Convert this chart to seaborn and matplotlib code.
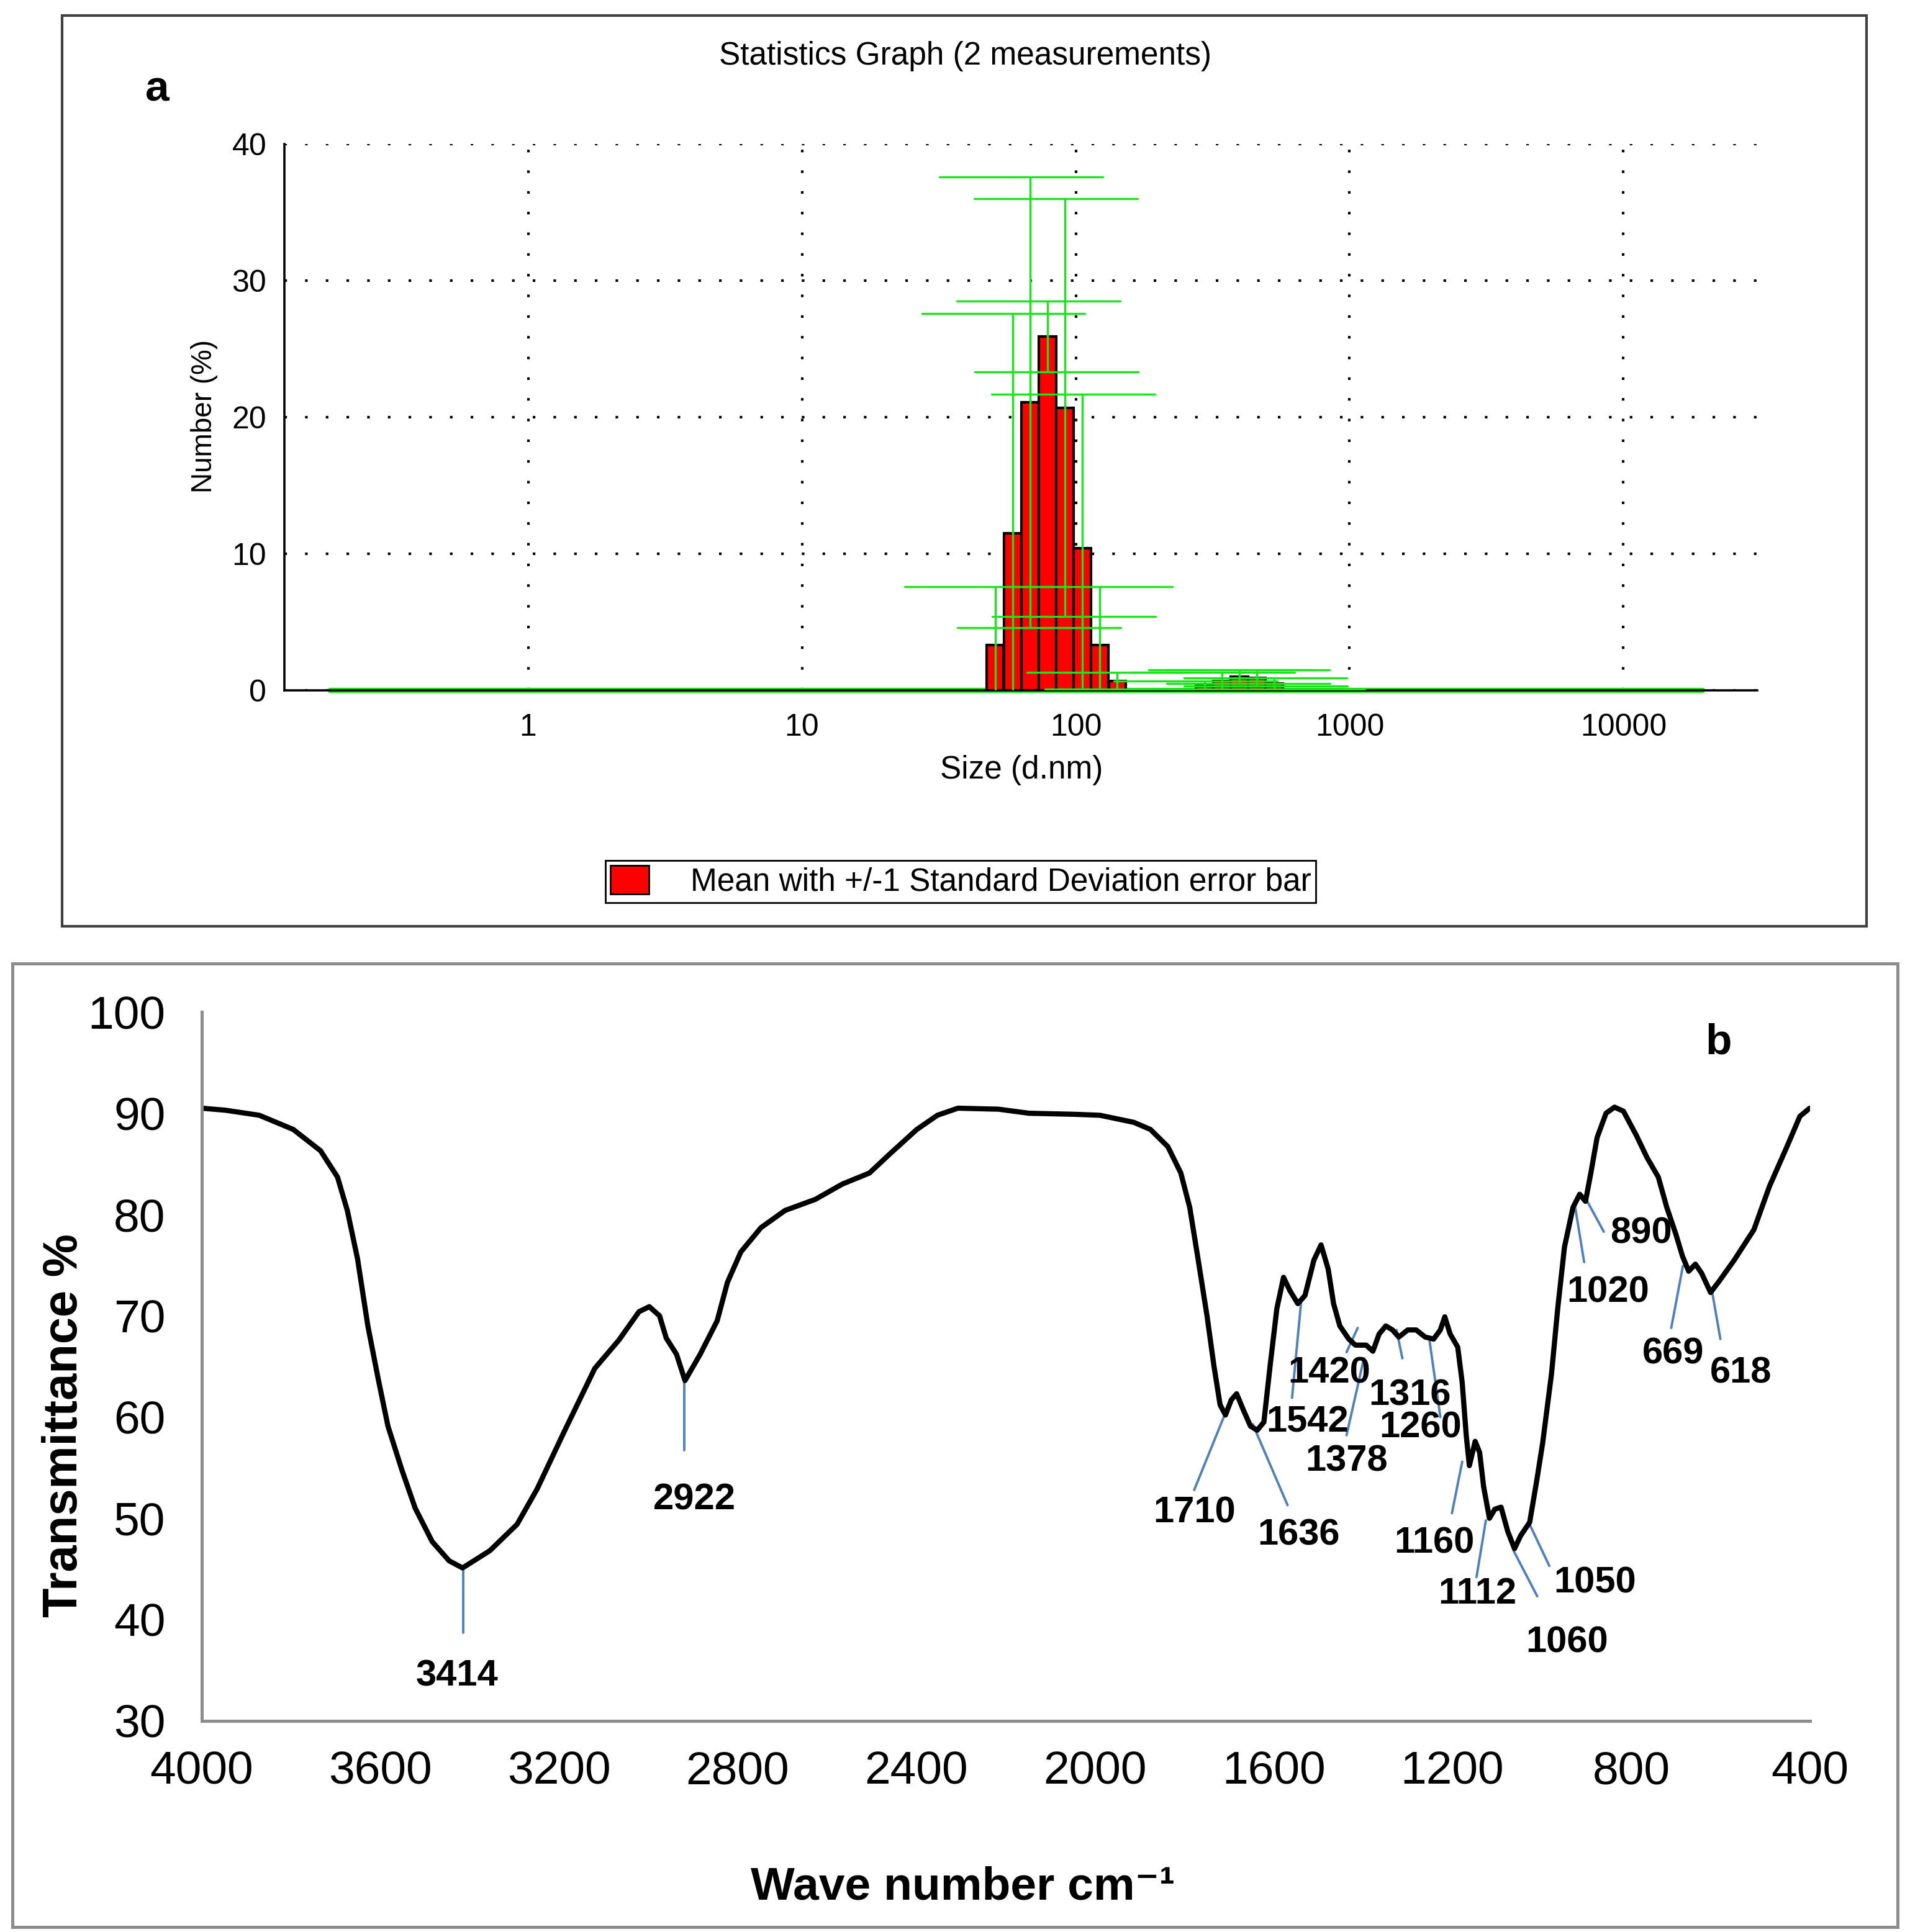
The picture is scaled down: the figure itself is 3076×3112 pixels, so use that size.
import matplotlib
matplotlib.use('Agg')
import numpy as np
import pandas as pd
import seaborn as sns
import matplotlib.pyplot as plt
from matplotlib.patches import Rectangle, Patch
from matplotlib.ticker import NullFormatter, FixedLocator
from matplotlib import font_manager

# ---------------- data: panel a (DLS size distribution) ----------------
size_bins = [50.75, 58.77, 68.06, 78.82, 91.28, 105.7, 122.4, 141.8,
             295.3, 342.0, 396.1, 458.7, 531.2]
number_mean = [3.3, 11.5, 21.1, 25.9, 20.7, 10.4, 3.3, 0.7,
               0.3, 0.7, 1.0, 0.9, 0.5]
number_sd = [4.3, 16.1, 16.5, 2.6, 15.3, 11.3, 4.3, 0.6,
             0.4, 0.6, 0.5, 0.6, 0.4]
size_sd_lo = 0.467   # size spread of error bar caps (ratio to bin size)
size_sd_hi = 1.84
zero_bins_span = [0.19, 19500]
size_ticks = [1, 10, 100, 1000, 10000]

# ---------------- data: panel b (FTIR spectrum) ----------------
wavenumber = [4000, 3947, 3871, 3795, 3734, 3696, 3674, 3651, 3628, 3605, 3583, 3552,
              3522, 3484, 3446, 3416, 3355, 3294, 3249, 3188, 3120, 3066, 3021, 2998,
              2975, 2960, 2937, 2918, 2884, 2846, 2823, 2793, 2748, 2694, 2626, 2566,
              2505, 2459, 2399, 2353, 2307, 2216, 2148, 2049, 1989, 1913,
              1876, 1837, 1808, 1788, 1769, 1749, 1734, 1720, 1708, 1695, 1683, 1669,
              1652, 1637, 1622, 1608, 1593, 1578, 1564, 1546, 1530, 1510, 1494, 1478,
              1466, 1452, 1432, 1417, 1393, 1378, 1364, 1349, 1334, 1320, 1300, 1281,
              1261, 1242, 1227, 1217, 1205, 1188, 1178, 1169, 1162, 1149, 1139, 1130,
              1117, 1105, 1091, 1076, 1061, 1047, 1027, 1012, 998, 978, 964, 949,
              930, 915, 902, 890, 876, 856, 837, 817, 788, 764, 739, 720,
              700, 685, 671, 656, 642, 622, 603, 569, 525, 490, 451, 422, 400]
transmittance = [90.5, 90.3, 89.8, 88.4, 86.3, 83.7, 80.4, 75.6, 69.0, 63.8, 59.1, 54.8,
                 51.0, 47.7, 45.8, 45.1, 46.8, 49.4, 52.9, 58.6, 64.8, 67.6, 70.4, 70.9,
                 70.0, 67.8, 66.2, 63.6, 66.2, 69.5, 73.3, 76.3, 78.7, 80.4, 81.5, 83.0,
                 84.1, 86.0, 88.4, 89.8, 90.5, 90.4, 90.0, 89.9, 89.8, 89.1,
                 88.4, 86.7, 84.1, 80.7, 75.5, 69.9, 65.1, 61.2, 60.2, 61.7, 62.3, 60.8,
                 59.1, 58.7, 59.5, 65.1, 70.7, 73.8, 72.5, 71.2, 72.0, 75.5, 77.0, 74.6,
                 71.2, 69.0, 67.7, 67.1, 67.1, 66.5, 68.2, 69.0, 68.6, 67.9, 68.6, 68.6,
                 67.9, 67.7, 68.6, 69.9, 68.2, 66.9, 63.4, 58.2, 55.2, 57.6, 56.5, 53.1,
                 50.0, 50.9, 51.1, 48.7, 47.0, 48.3, 49.6, 53.5, 57.4, 64.3, 70.8, 76.8,
                 80.7, 82.0, 81.3, 84.1, 87.6, 90.0, 90.6, 90.2, 87.8, 85.6, 83.7, 80.7,
                 78.1, 75.9, 74.4, 75.1, 74.2, 72.3, 73.4, 75.5, 78.5, 82.8, 86.7, 89.7, 90.5]

# peak labels: text, line start (on curve), line end, label position
peak_labels = ['3414', '2922', '1710', '1636', '1542', '1420', '1378', '1316', '1260',
               '1160', '1112', '1060', '1050', '1020', '890', '669', '618']
peak_x0 = [3415, 2919, 1710, 1647, 1539, 1412, 1398, 1325, 1251, 1178, 1125, 1063, 1027, 925, 898, 684, 619]
peak_y0 = [45.2, 63.5, 60.2, 59.3, 71.2, 68.8, 65.8, 68.6, 67.5, 55.6, 49.8, 46.8, 49.4, 80.7, 81.3, 74.9, 72.5]
peak_x1 = [3415, 2919, 1778, 1569, 1559, 1437, 1437, 1312, 1227, 1201, 1146, 1010, 983, 905, 861, 710, 600]
peak_y1 = [38.7, 56.7, 52.8, 51.3, 61.9, 66.4, 58.2, 65.8, 60.0, 50.5, 44.2, 42.3, 45.3, 75.3, 78.3, 68.8, 67.7]
peak_tx = [3429, 2897, 1778, 1544, 1525, 1476, 1437, 1295, 1271, 1240, 1144, 944, 881, 851, 778, 705, 554]
peak_ty = [34.4, 51.8, 50.5, 48.3, 59.5, 64.3, 55.6, 62.1, 58.9, 47.5, 42.5, 37.7, 43.6, 72.3, 78.1, 66.2, 64.3]

spec = pd.DataFrame({'wn': wavenumber, 'T': transmittance})

sns.set_style('white')
plt.rcParams['font.family'] = ['Liberation Sans', 'DejaVu Sans']
plt.rcParams['text.color'] = 'black'
plt.rcParams['axes.labelcolor'] = 'black'
plt.rcParams['xtick.color'] = 'black'
plt.rcParams['ytick.color'] = 'black'
names = {f.name for f in font_manager.fontManager.ttflist}
narrow = 'Liberation Sans Narrow' if 'Liberation Sans Narrow' in names else None

fig = plt.figure(figsize=(15.38, 15.56), dpi=200)

# frames round the two panels
fig.add_artist(Rectangle((0.0324, 0.5206), 0.9449, 0.4714, transform=fig.transFigure,
                         fill=False, ec='#404040', lw=1.5))
fig.add_artist(Rectangle((0.0065, 0.0025), 0.987, 0.4988, transform=fig.transFigure,
                         fill=False, ec='#8c8c8c', lw=1.8))

# ---------------- panel a ----------------
ax1 = fig.add_axes([0.149, 0.6427, 0.771, 0.2827])
ax1.set_xscale('log')
ax1.set_xlim(0.129, 30800)
ax1.set_ylim(0, 40)

c = np.array(size_bins)
half = 10 ** 0.0314
ax1.bar(c / half, number_mean, width=c * half - c / half, align='edge',
        color='red', edgecolor='black', linewidth=1.5, zorder=3)

green = '#19e619'
ax1.plot(zero_bins_span, [0, 0], color=green, lw=3, zorder=2, clip_on=False)
for x, m, s in zip(size_bins, number_mean, number_sd):
    top, bot = m + s, m - s
    ax1.plot([x, x], [max(bot, 0), top], color=green, lw=1.2, zorder=4)
    ax1.plot([x * size_sd_lo, x * size_sd_hi], [top, top], color=green, lw=1.2, zorder=4)
    if bot > 0:
        ax1.plot([x / size_sd_hi, x / size_sd_lo], [bot, bot], color=green, lw=1.2, zorder=4)

ax1.set_axisbelow(True)
ax1.grid(True, which='major', color='black', ls=(0, (1, 7)), lw=1.5)
ax1.set_xticks(size_ticks)
ax1.set_xticklabels([str(t) for t in size_ticks])
ax1.xaxis.set_minor_formatter(NullFormatter())
ax1.set_yticks([0, 10, 20, 30, 40])
ax1.yaxis.set_minor_locator(FixedLocator([5, 15, 25, 35]))
ax1.tick_params(which='major', direction='inout', length=11, width=1.2, colors='black',
                labelsize=18, pad=5)
ax1.tick_params(which='minor', direction='inout', length=8, width=1.2, colors='black')
ax1.tick_params(axis='x', which='major', pad=8)
for sp in ['top', 'right']:
    ax1.spines[sp].set_visible(False)
for sp in ['left', 'bottom']:
    ax1.spines[sp].set_color('black')
    ax1.spines[sp].set_linewidth(1.3)

fig.text(0.5055, 0.971, 'Statistics Graph (2 measurements)', ha='center', va='center', fontsize=18.5)
fig.text(0.0823, 0.9537, 'a', ha='center', va='center', fontsize=25, fontweight='bold')
fig.text(0.5347, 0.6015, 'Size (d.nm)', ha='center', va='center', fontsize=18.5)
fig.text(0.107, 0.7847, 'Number (%)', ha='center', va='center', rotation=90, fontsize=16.5)
fig.legend(handles=[Patch(facecolor='red', edgecolor='black')],
           labels=['Mean with +/-1 Standard Deviation error bar'],
           loc='center', bbox_to_anchor=(0.503, 0.5437), fontsize=18.5, frameon=True,
           fancybox=False, edgecolor='black', framealpha=1, handlelength=1.2,
           handleheight=1.0, borderpad=0.15, handletextpad=1.3, borderaxespad=0)

# ---------------- panel b ----------------
ax2 = fig.add_axes([0.1056, 0.1093, 0.8419, 0.3669])
sns.lineplot(data=spec, x='wn', y='T', sort=False, estimator=None, color='black',
             lw=3.0, ax=ax2, solid_joinstyle='round', solid_capstyle='round')
for lab, x0, y0, x1, y1, tx, ty in zip(peak_labels, peak_x0, peak_y0, peak_x1, peak_y1,
                                       peak_tx, peak_ty):
    ax2.plot([x0, x1], [y0, y1], color='#4f81bd', lw=1.4, zorder=1)
    ax2.text(tx, ty, lab, ha='center', va='center', fontsize=21.5, fontweight='bold',
             color='black')

ax2.set_xlim(4000, 400)
ax2.set_ylim(30, 100)
ax2.set_xticks(list(range(4000, 399, -400)))
ax2.set_yticks(list(range(30, 101, 10)))
ax2.set_xlabel('')
ax2.set_ylabel('')
for sp in ['top', 'right']:
    ax2.spines[sp].set_visible(False)
for sp in ['left', 'bottom']:
    ax2.spines[sp].set_color('#8c8c8c')
    ax2.spines[sp].set_linewidth(1.8)
ax2.tick_params(direction='out', length=7, width=1.8, color='#8c8c8c', labelcolor='black',
                labelsize=27)
ax2.tick_params(axis='x', pad=10)
ax2.tick_params(axis='y', pad=14)

lab_font = [narrow, 'Liberation Sans', 'DejaVu Sans'] if narrow else ['Liberation Sans', 'DejaVu Sans']
lab_size = 31 if narrow else 27
fig.text(0.5042, 0.0231, 'Wave number cm\u207b\u00b9', ha='center', va='center',
         fontsize=lab_size, fontweight='bold', family=lab_font)
fig.text(0.0337, 0.2622, 'Transmittance %', ha='center', va='center', rotation=90,
         fontsize=lab_size + 1, fontweight='bold', family=lab_font)
fig.text(0.8996, 0.4602, 'b', ha='center', va='center', fontsize=25, fontweight='bold')

fig.savefig('out.png', dpi=200, facecolor='white')
